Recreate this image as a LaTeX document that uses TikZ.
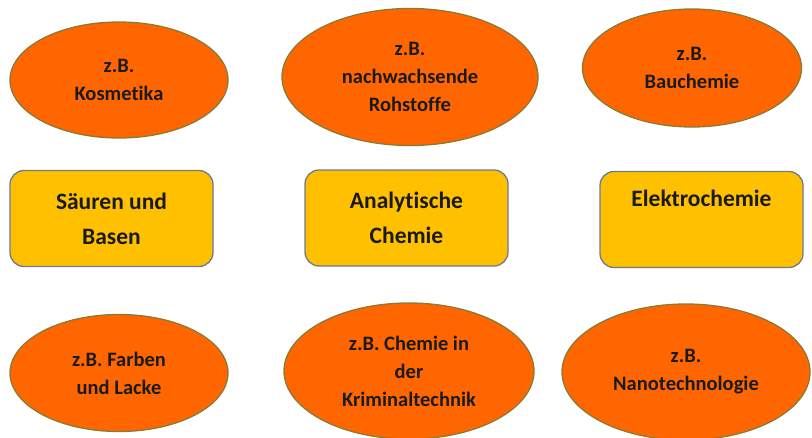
\documentclass[tikz,border=0pt]{standalone}
\usepackage{fontspec}
\setmainfont{Carlito}[Ligatures={NoCommon}]
\usetikzlibrary{shapes.geometric}
\definecolor{ellfill}{HTML}{FF6600}
\definecolor{elldraw}{HTML}{8A7A34}
\definecolor{boxfill}{HTML}{FFC000}
\definecolor{boxdraw}{HTML}{6F7A90}
\definecolor{txt}{HTML}{1A1A1A}
\tikzset{
  oval/.style={ellipse, fill=ellfill, draw=elldraw, line width=1.3pt, inner sep=0pt,
    text=txt, align=center, font=\fontsize{20.5}{28}\selectfont\bfseries},
  topic/.style={rectangle, rounded corners=14pt, fill=boxfill, draw=boxdraw, line width=1.3pt,
    inner sep=0pt, text=txt, align=center, minimum width=203pt, minimum height=96pt,
    font=\fontsize{23.5}{35}\selectfont\bfseries}
}
\begin{document}
\begin{tikzpicture}[x=1pt,y=-1pt]
\useasboundingbox (0,0) rectangle (812,437);
\fill[white] (0,0) rectangle (812,437);
% top row
\node[oval, minimum width=218pt, minimum height=116pt] (kos) at (119,80) {z.B.\\Kosmetika};
\node[oval, minimum width=256pt, minimum height=137pt] (roh) at (410,77) {z.B.\\nachwachsende\\Rohstoffe};
\node[oval, minimum width=219pt, minimum height=118pt] (bau) at (692,68) {z.B.\\Bauchemie};
% middle row
\node[topic] (sae) at (111.5,218.5) {Säuren und\\Basen};
\node[topic] (ana) at (406.5,218) {Analytische\\Chemie};
\node[topic] (ele) at (701.5,219.5) {\raisebox{-3pt}{Elektrochemie}\\\strut};
% bottom row
\node[oval, minimum width=218pt, minimum height=117pt] (far) at (119,373) {z.B. Farben\\und Lacke};
\node[oval, minimum width=250pt, minimum height=136pt] (kri) at (409,371) {z.B. Chemie in\\der\\Kriminaltechnik};
\node[oval, minimum width=248pt, minimum height=136pt] (nan) at (686,372) {z.B.\\Nanotechnologie};
\end{tikzpicture}
\end{document}
